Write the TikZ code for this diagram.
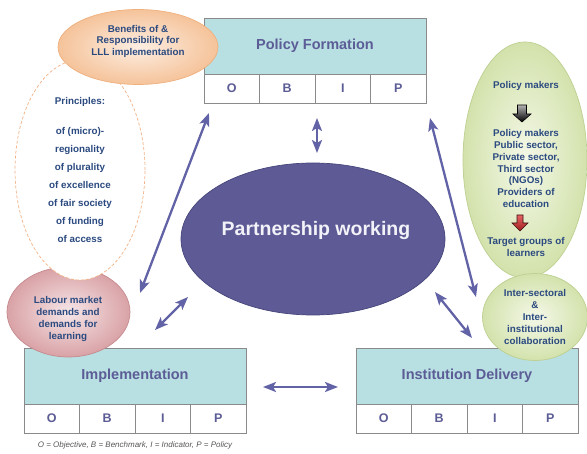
\documentclass[tikz,border=0pt]{standalone}
\usepackage{fontspec}
\setmainfont{Liberation Sans}
\usetikzlibrary{shapes.geometric,arrows.meta}
\definecolor{txt}{HTML}{2B4A80}
\definecolor{boxfill}{HTML}{B8E0E2}
\definecolor{boxline}{HTML}{8A8A8A}
\definecolor{boxtxt}{HTML}{5C5C96}
\definecolor{arrc}{HTML}{6262A6}
\definecolor{pwfill}{HTML}{5D5A96}
\definecolor{pwline}{HTML}{46467A}
\definecolor{orin}{HTML}{FDEEE2}
\definecolor{orout}{HTML}{F5C39A}
\definecolor{orline}{HTML}{EFB07E}
\definecolor{pkin}{HTML}{F6E6E8}
\definecolor{pkout}{HTML}{D9A2A6}
\definecolor{pkline}{HTML}{C48A8E}
\definecolor{grin}{HTML}{F4F8E8}
\definecolor{grout}{HTML}{D3E2AC}
\definecolor{grline}{HTML}{BDD092}
\definecolor{dashc}{HTML}{F4B183}
\definecolor{foot}{HTML}{555555}
\definecolor{redline}{HTML}{3A1010}
\definecolor{redtop}{HTML}{E66464}
\definecolor{redbot}{HTML}{A01E1E}
\definecolor{pwtxt}{HTML}{F2F2F8}
\tikzset{
  ah/.tip={Stealth[length=13pt,width=10pt,inset=3pt]},
  titlebox/.style={draw=boxline, line width=0.8pt, fill=boxfill, minimum width=222pt, minimum height=56pt, inner sep=0pt, text=boxtxt, font=\fontsize{14.5}{17}\selectfont\bfseries},
  cell/.style={draw=boxline, line width=0.8pt, fill=white, minimum width=55.5pt, minimum height=29pt, inner sep=0pt, text=boxtxt, font=\fontsize{12.5}{15}\selectfont\bfseries},
  link/.style={draw=arrc, line width=2.3pt, ah-ah},
  small/.style={text=txt, font=\fontsize{9.8}{11.8}\selectfont\bfseries, align=center, inner sep=0pt},
  oval/.style={ellipse, inner sep=0pt, line width=0.7pt},
}
\begin{document}
\begin{tikzpicture}[x=1pt,y=-1pt]
\useasboundingbox (0,0) rectangle (587,454);

% Policy Formation
\node[titlebox] (pf) at (315,46) {Policy Formation};
\node[cell] (pfO) at (231.75,88.5) {O};
\node[cell] (pfB) at (287.25,88.5) {B};
\node[cell] (pfI) at (342.75,88.5) {I};
\node[cell] (pfP) at (398.25,88.5) {P};

% Implementation
\node[titlebox] (im) at (135,376) {Implementation};
\node[cell] (imO) at (51.75,418.5) {O};
\node[cell] (imB) at (107.25,418.5) {B};
\node[cell] (imI) at (162.75,418.5) {I};
\node[cell] (imP) at (218.25,418.5) {P};

% Institution Delivery
\node[titlebox] (id) at (467,376) {Institution Delivery};
\node[cell] (idO) at (383.75,418.5) {O};
\node[cell] (idB) at (439.25,418.5) {B};
\node[cell] (idI) at (494.75,418.5) {I};
\node[cell] (idP) at (550.25,418.5) {P};

\node[text=foot, font=\fontsize{8}{9}\selectfont\itshape, inner sep=0pt] (legend) at (135,445)
  {O = Objective, B = Benchmark, I = Indicator, P = Policy};

% Labour market ellipse
\node[oval, minimum width=123pt, minimum height=90pt, inner color=pkin, outer color=pkout, draw=pkline] (lab) at (68.5,312) {};
\node[small] (labt) at (68,319) {Labour market\\demands and\\demands for\\learning};

% Principles dashed ellipse
\node[oval, minimum width=130pt, minimum height=220pt, fill=white, draw=dashc, dash pattern=on 3pt off 2pt] (pri) at (80,170) {};
\node[small, font=\fontsize{9.8}{18}\selectfont\bfseries] (prit) at (80,170)
  {Principles:\\[12pt]of (micro)-\\regionality\\of plurality\\of excellence\\of fair society\\of funding\\of access};

% Benefits ellipse
\node[oval, minimum width=160pt, minimum height=75pt, inner color=orin, outer color=orout, draw=orline] (ben) at (138,47) {};
\node[small, font=\fontsize{9.8}{11.5}\selectfont\bfseries] (bent) at (138,41) {Benefits of \&\\Responsibility for\\LLL implementation};

% Big green ellipse
\node[oval, minimum width=124pt, minimum height=236pt, inner color=grin, outer color=grout, draw=grline] (gr) at (525,160) {};
\node[small] (gm1) at (526,86) {Policy makers};
\draw[draw=black, line width=0.6pt, top color=gray!60, bottom color=black]
  (517.5,105) -- (526.5,105) -- (526.5,114) -- (531,114) -- (522,122) -- (513,114) -- (517.5,114) -- cycle;
\node[small] (gm2) at (526,168.5) {Policy makers\\Public sector,\\Private sector,\\Third sector\\(NGOs)\\Providers of\\education};
\draw[draw=redline, line width=0.6pt, top color=redtop, bottom color=redbot]
  (517,215) -- (523,215) -- (523,223) -- (528,223) -- (520,231) -- (512,223) -- (517,223) -- cycle;
\node[small] (gm3) at (526,247) {Target groups of\\learners};

% Small green ellipse
\node[oval, minimum width=105pt, minimum height=87pt, inner color=grin, outer color=grout, draw=grline] (col) at (535,317) {};
\node[small] (colt) at (535,317) {Inter-sectoral\\\&\\Inter-\\institutional\\collaboration};

% Central ellipse
\node[oval, minimum width=264pt, minimum height=152pt, fill=pwfill, draw=pwline] (pw) at (313,239) {};
\node[text=pwtxt, font=\fontsize{19.5}{22}\selectfont\bfseries, inner sep=0pt] (pwt) at (316,231) {Partnership working};

% Arrows
\coordinate (a1s) at (140,293); \coordinate (a1e) at (209,113);
\coordinate (a2s) at (155,330); \coordinate (a2e) at (188,297);
\coordinate (a3s) at (317,118); \coordinate (a3e) at (317,153);
\coordinate (a4s) at (430,118); \coordinate (a4e) at (476,297);
\coordinate (a5s) at (435,292); \coordinate (a5e) at (472,338);
\coordinate (a6s) at (263,387); \coordinate (a6e) at (338,387);
\draw[link] (a1s) -- (a1e);
\draw[link] (a2s) -- (a2e);
\draw[link] (a3s) -- (a3e);
\draw[link] (a4s) -- (a4e);
\draw[link] (a5s) -- (a5e);
\draw[link] (a6s) -- (a6e);
\end{tikzpicture}
\end{document}
